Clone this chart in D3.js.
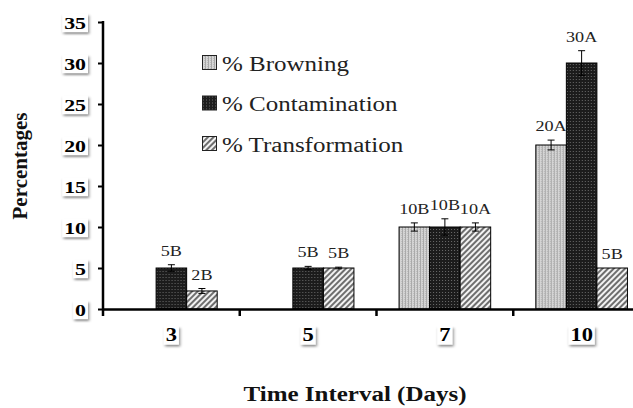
<!DOCTYPE html>
<html>
<head>
<meta charset="utf-8">
<script src="https://cdn.jsdelivr.net/npm/d3@7"></script>
<style>
  body { margin: 0; background: #fff; }
  svg { display: block; font-family: "Liberation Serif", "Times New Roman", serif; }
</style>
</head>
<body>
<svg id="chart" width="633" height="408"></svg>
<script>
// data
var days = ["3", "5", "7", "10"];
var seriesNames = ["% Browning", "% Contamination", "% Transformation"];
var browning = [0, 0, 10, 20];
var contamination = [5, 5, 10, 30];
var transformation = [2.2, 5, 10, 5];
var browningErr = [0, 0, 0.5, 0.6];
var contaminationErr = [0.4, 0.2, 1.0, 1.5];
var transformationErr = [0.3, 0.1, 0.5, 0];
var browningLabels = ["", "", "10B", "20A"];
var contaminationLabels = ["5B", "5B", "10B", "30A"];
var transformationLabels = ["2B", "5B", "10A", "5B"];
var yTicks = [0, 5, 10, 15, 20, 25, 30, 35];

var series = [
    {key: "b", name: seriesNames[0], values: browning, err: browningErr, labels: browningLabels, fill: "url(#patBrown)"},
    {key: "c", name: seriesNames[1], values: contamination, err: contaminationErr, labels: contaminationLabels, fill: "url(#patCont)"},
    {key: "t", name: seriesNames[2], values: transformation, err: transformationErr, labels: transformationLabels, fill: "url(#patTrans)"}
];

var svg = d3.select("#chart");
var sx = 1.25; // the picture is stretched sideways

// patterns + shadow
var defs = svg.append("defs");

var p1 = defs.append("pattern").attr("id", "patBrown").attr("patternUnits", "userSpaceOnUse")
    .attr("width", 3).attr("height", 2);
p1.append("rect").attr("width", 3).attr("height", 2).attr("fill", "#d6d6d6");
p1.append("rect").attr("x", 0).attr("width", 1).attr("height", 2).attr("fill", "#a8a8a8");
p1.append("rect").attr("x", 2).attr("y", 1).attr("width", 1).attr("height", 1).attr("fill", "#bdbdbd");

var p2 = defs.append("pattern").attr("id", "patCont").attr("patternUnits", "userSpaceOnUse")
    .attr("width", 3).attr("height", 3);
p2.append("rect").attr("width", 3).attr("height", 3).attr("fill", "#1c1c1c");
p2.append("rect").attr("x", 1).attr("y", 1).attr("width", 1).attr("height", 1).attr("fill", "#6a6a6a");

var p3 = defs.append("pattern").attr("id", "patTrans").attr("patternUnits", "userSpaceOnUse")
    .attr("width", 4).attr("height", 4).attr("patternTransform", "rotate(45)");
p3.append("rect").attr("width", 4).attr("height", 4).attr("fill", "#f2f2f2");
p3.append("rect").attr("width", 2).attr("height", 4).attr("fill", "#6e6e6e");

var f = defs.append("filter").attr("id", "shadow")
    .attr("x", "-40%").attr("y", "-40%").attr("width", "180%").attr("height", "200%");
f.append("feDropShadow").attr("dx", 1).attr("dy", 2).attr("stdDeviation", 1.2)
    .attr("flood-color", "#000").attr("flood-opacity", 0.45);

// scales
var y = d3.scaleLinear().domain([0, 35]).range([309, 22]);
var x0 = d3.scaleBand().domain(days).range([103, 650]).paddingInner(0.33).paddingOuter(0.165);
var x1 = d3.scaleBand().domain(series.map(function (s) { return s.key; })).range([0, x0.bandwidth()]);

// bars
var groups = svg.selectAll("g.day").data(days).enter().append("g")
    .attr("class", "day")
    .attr("transform", function (d) { return "translate(" + x0(d) + ",0)"; });

series.forEach(function (s) {
    groups.append("rect")
        .attr("x", x1(s.key))
        .attr("y", function (d, i) { return y(s.values[i]); })
        .attr("width", x1.bandwidth())
        .attr("height", function (d, i) { return y(0) - y(s.values[i]); })
        .attr("fill", s.fill)
        .attr("stroke", function (d, i) { return s.values[i] > 0 ? "#000" : "none"; })
        .attr("stroke-width", 1);
});

// error bars and letters
series.forEach(function (s) {
    groups.each(function (d, i) {
        if (s.values[i] <= 0) return;
        var g = d3.select(this);
        var cx = x1(s.key) + x1.bandwidth() / 2;
        var e = s.err[i];
        if (e > 0) {
            var top = y(s.values[i] + e), bot = y(s.values[i] - e);
            g.append("line").attr("x1", cx).attr("x2", cx).attr("y1", top).attr("y2", bot)
                .attr("stroke", "#000").attr("stroke-width", 1);
            g.append("line").attr("x1", cx - 3.5).attr("x2", cx + 3.5).attr("y1", top).attr("y2", top)
                .attr("stroke", "#000").attr("stroke-width", 1);
            g.append("line").attr("x1", cx - 3.5).attr("x2", cx + 3.5).attr("y1", bot).attr("y2", bot)
                .attr("stroke", "#000").attr("stroke-width", 1);
        }
        g.append("text")
            .attr("transform", "translate(" + cx + "," + (y(s.values[i] + e) - 9) + ") scale(" + sx + ",1)")
            .attr("text-anchor", "middle")
            .attr("font-size", 14.5)
            .attr("fill", "#222")
            .text(s.labels[i]);
    });
});

// white box with a soft shadow behind each tick label
function boxBehind(tick) {
    tick.each(function () {
        var t = d3.select(this).select("text");
        var bb = t.node().getBBox();
        d3.select(this).insert("rect", "text")
            .attr("x", bb.x - 1.5).attr("y", bb.y + 1)
            .attr("width", bb.width + 3).attr("height", bb.height - 1)
            .attr("transform", t.attr("transform"))
            .attr("fill", "#fff")
            .attr("filter", "url(#shadow)");
    });
}

// y axis
var yAxis = svg.append("g")
    .attr("transform", "translate(103,0)")
    .call(d3.axisLeft(y).tickValues(yTicks).tickSize(5).tickSizeOuter(0));
yAxis.select(".domain").remove();
yAxis.selectAll(".tick line").attr("stroke", "#000").attr("stroke-width", 2);
yAxis.selectAll(".tick text")
    .attr("x", null).attr("dy", null)
    .attr("transform", "translate(-17,6) scale(" + sx + ",1)")
    .attr("font-family", "Liberation Serif, serif")
    .attr("font-size", 17.5)
    .attr("font-weight", "bold")
    .attr("fill", "#000");
boxBehind(yAxis.selectAll(".tick"));
svg.append("line").attr("x1", 103).attr("x2", 103).attr("y1", 21).attr("y2", 316)
    .attr("stroke", "#000").attr("stroke-width", 2.5);

// x axis
var xAxis = svg.append("g")
    .attr("transform", "translate(0,309)")
    .call(d3.axisBottom(x0).tickSize(0).tickSizeOuter(0));
xAxis.select(".domain").attr("stroke", "#000").attr("stroke-width", 2.5);
xAxis.selectAll(".tick text")
    .attr("y", null).attr("dy", null)
    .attr("transform", "translate(0,32) scale(" + sx + ",1)")
    .attr("font-family", "Liberation Serif, serif")
    .attr("font-size", 18)
    .attr("font-weight", "bold")
    .attr("fill", "#000");
boxBehind(xAxis.selectAll(".tick"));

// separator ticks between the days
days.slice(1).forEach(function (d) {
    var xs = x0(d) - x0.step() * x0.paddingInner() / 2;
    svg.append("line").attr("x1", xs).attr("x2", xs).attr("y1", 309).attr("y2", 316)
        .attr("stroke", "#000").attr("stroke-width", 2.5);
});

// axis titles
svg.append("text")
    .attr("transform", "translate(27,166) rotate(-90)")
    .attr("text-anchor", "middle")
    .attr("font-size", 21)
    .attr("font-weight", "bold")
    .attr("fill", "#111")
    .text("Percentages");

svg.append("text")
    .attr("transform", "translate(355,401) scale(" + sx + ",1)")
    .attr("text-anchor", "middle")
    .attr("font-size", 20)
    .attr("font-weight", "bold")
    .attr("fill", "#111")
    .text("Time Interval (Days)");

// legend
var legend = svg.selectAll("g.legend").data(series).enter().append("g")
    .attr("class", "legend")
    .attr("transform", function (d, i) { return "translate(202," + (55 + i * 40.5) + ")"; });
legend.append("rect")
    .attr("x", 0.5).attr("y", 0.5).attr("width", 14).attr("height", 14)
    .attr("fill", function (d) { return d.fill; })
    .attr("stroke", "#222").attr("stroke-width", 1);
legend.append("text")
    .attr("transform", "translate(20,15.5) scale(" + sx + ",1)")
    .attr("font-size", 20)
    .attr("fill", "#222")
    .text(function (d) { return d.name; });
</script>
</body>
</html>
